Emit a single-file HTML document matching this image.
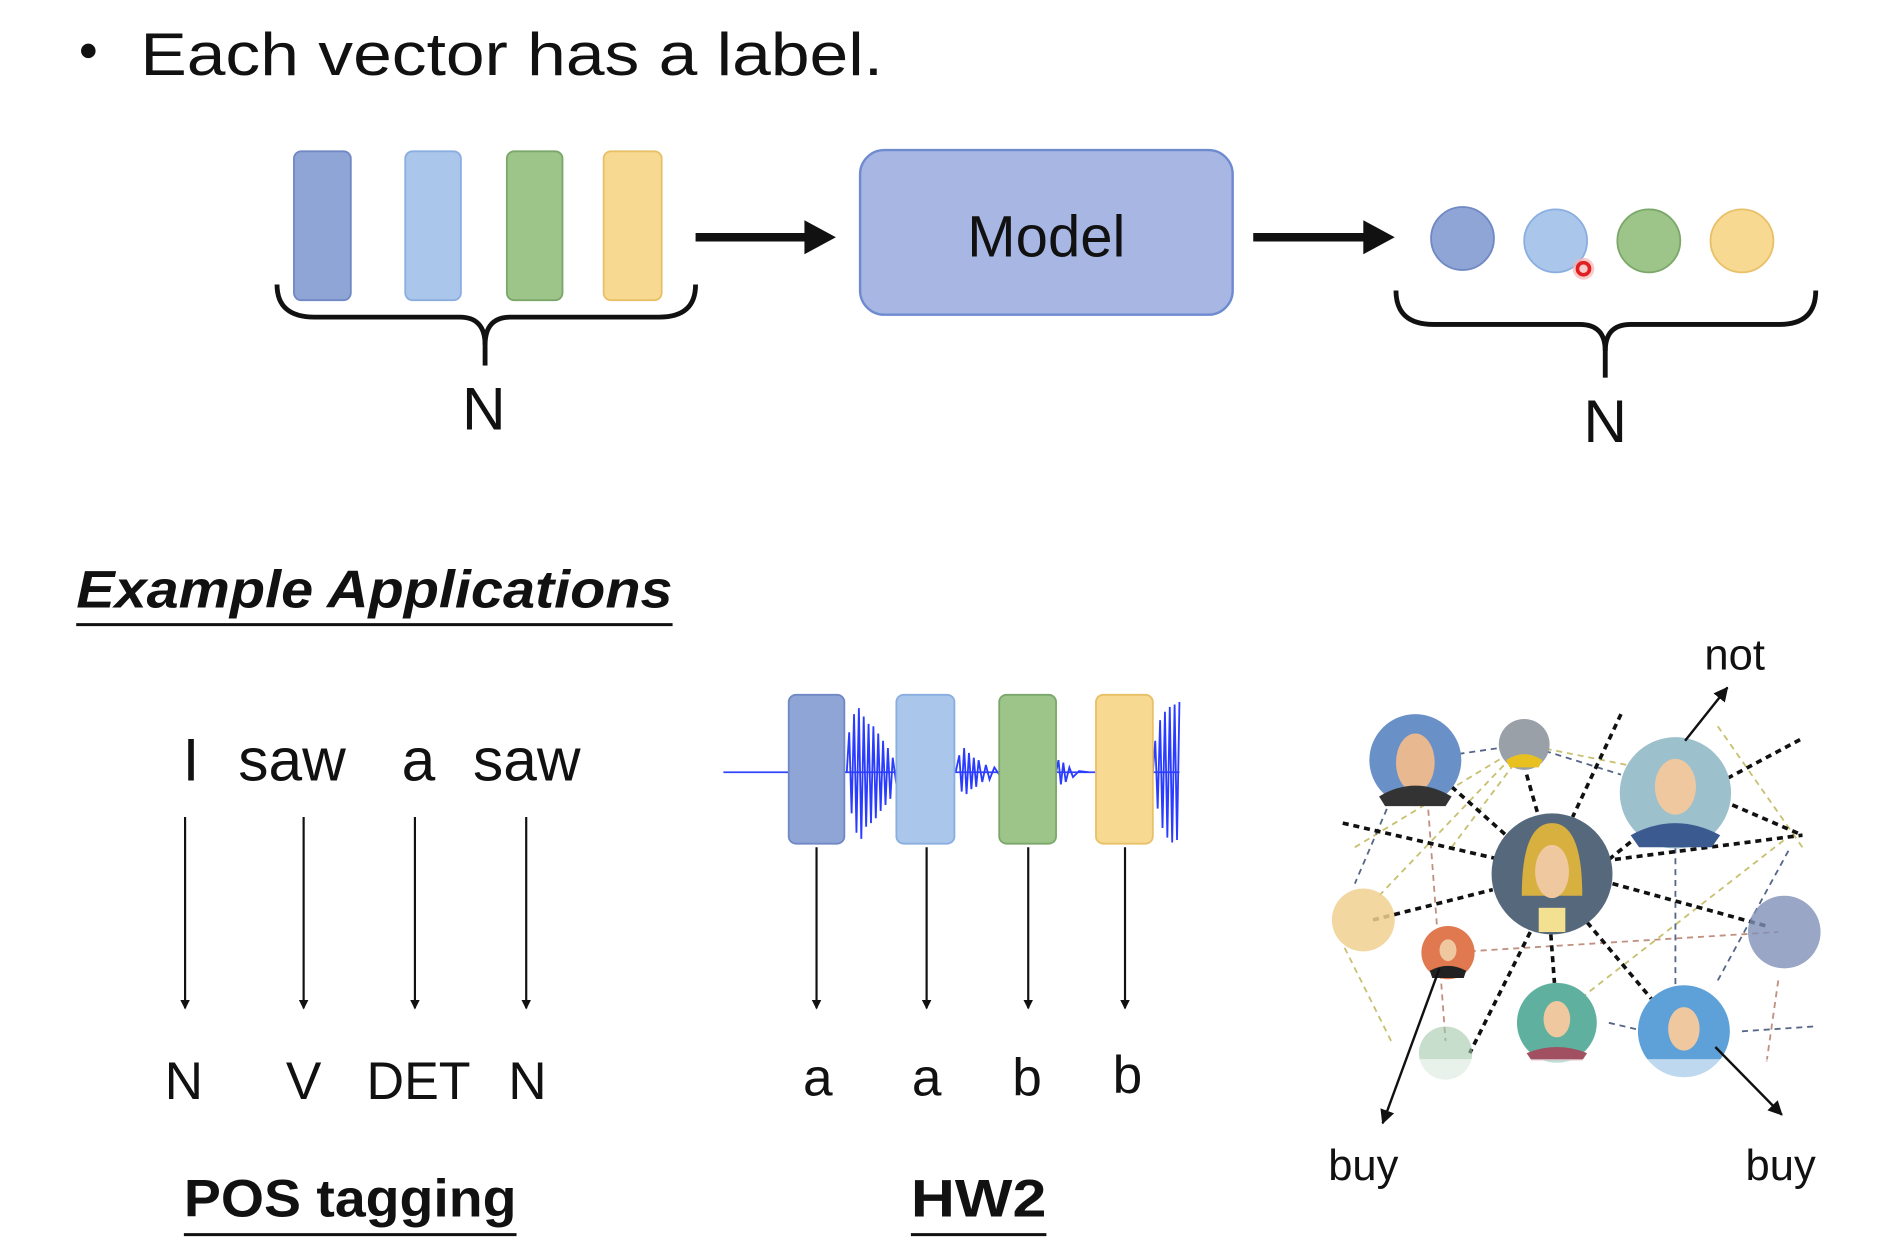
<!DOCTYPE html>
<html><head><meta charset="utf-8"><style>
html,body{margin:0;padding:0;background:#fff;}
svg{display:block;}
text{font-family:"Liberation Sans",sans-serif;fill:#111;}
</style></head><body>
<svg width="1898" height="1254" viewBox="0 0 1569 1036" preserveAspectRatio="none" xmlns="http://www.w3.org/2000/svg">
<defs>
<marker id="ah" markerWidth="8" markerHeight="8" refX="7" refY="4" orient="auto" markerUnits="userSpaceOnUse"><path d="M0,0 L8,4 L0,8 Z" fill="#111"/></marker>
<marker id="ah2" markerWidth="12" markerHeight="12" refX="11" refY="6" orient="auto" markerUnits="userSpaceOnUse"><path d="M0,0 L12,6 L0,12 Z" fill="#111"/></marker>
</defs>
<circle cx="73" cy="42" r="6" fill="#111"/>
<text x="116" y="62" font-size="50" textLength="614" lengthAdjust="spacingAndGlyphs">Each vector has a label.</text>

<rect x="243" y="125" width="47" height="123" rx="6" fill="#8fa5d6" stroke="#7088c4" stroke-width="1.5"/>
<rect x="335" y="125" width="46" height="123" rx="6" fill="#aac6ea" stroke="#8aaee0" stroke-width="1.5"/>
<rect x="419" y="125" width="46" height="123" rx="6" fill="#9dc489" stroke="#7ba86a" stroke-width="1.5"/>
<rect x="499" y="125" width="48" height="123" rx="6" fill="#f8d991" stroke="#e8c068" stroke-width="1.5"/>
<path d="M229,235 Q229,262 260,262 L380,262 Q401,262 401,285 Q401,262 422,262 L545,262 Q575,262 575,235" fill="none" stroke="#111" stroke-width="4"/>
<line x1="401" y1="280" x2="401" y2="302" stroke="#111" stroke-width="4"/>
<text x="400" y="355" font-size="50" text-anchor="middle">N</text>

<line x1="575" y1="196" x2="668" y2="196" stroke="#111" stroke-width="7"/>
<path d="M665,182 L691,196 L665,210 Z" fill="#111"/>
<rect x="711" y="124" width="308" height="136" rx="20" fill="#a7b6e3" stroke="#6f8bd0" stroke-width="2"/>
<text x="865" y="212" font-size="48" text-anchor="middle">Model</text>
<line x1="1036" y1="196" x2="1130" y2="196" stroke="#111" stroke-width="7"/>
<path d="M1127,182 L1153,196 L1127,210 Z" fill="#111"/>

<circle cx="1209" cy="197" r="26" fill="#8fa5d6" stroke="#7088c4" stroke-width="1.5"/>
<circle cx="1286" cy="199" r="26" fill="#aac6ea" stroke="#8aaee0" stroke-width="1.5"/>
<circle cx="1363" cy="199" r="26" fill="#9dc489" stroke="#7ba86a" stroke-width="1.5"/>
<circle cx="1440" cy="199" r="26" fill="#f8d991" stroke="#e8c068" stroke-width="1.5"/>
<circle cx="1309" cy="222" r="9" fill="#f7b3b3" opacity="0.7"/>
<circle cx="1309" cy="222" r="5" fill="none" stroke="#e02020" stroke-width="3"/>
<path d="M1154,240 Q1154,268 1185,268 L1306,268 Q1327,268 1327,290 Q1327,268 1348,268 L1471,268 Q1501,268 1501,240" fill="none" stroke="#111" stroke-width="4"/>
<line x1="1327" y1="285" x2="1327" y2="312" stroke="#111" stroke-width="4"/>
<text x="1327" y="365" font-size="50" text-anchor="middle">N</text>

<text x="63" y="502" font-size="44" font-weight="bold" font-style="italic" textLength="493" lengthAdjust="spacingAndGlyphs">Example Applications</text>
<line x1="63" y1="516" x2="556" y2="516" stroke="#111" stroke-width="2.5"/>

<text font-size="50" y="645"><tspan x="151">I</tspan><tspan x="197">saw</tspan><tspan x="332">a</tspan><tspan x="391">saw</tspan></text>
<g stroke="#111" stroke-width="1.8" marker-end="url(#ah)">
<line x1="153" y1="675" x2="153" y2="833"/><line x1="251" y1="675" x2="251" y2="833"/>
<line x1="343" y1="675" x2="343" y2="833"/><line x1="435" y1="675" x2="435" y2="833"/>
<line x1="675" y1="700" x2="675" y2="833"/><line x1="766" y1="700" x2="766" y2="833"/>
<line x1="850" y1="700" x2="850" y2="833"/><line x1="930" y1="700" x2="930" y2="833"/>
</g>
<g font-size="44" text-anchor="middle">
<text x="152" y="908">N</text><text x="251" y="908">V</text><text x="346" y="908" textLength="86" lengthAdjust="spacingAndGlyphs">DET</text><text x="436" y="908">N</text>
<text x="676" y="905">a</text><text x="766" y="905">a</text><text x="849" y="905">b</text><text x="932" y="903">b</text>
</g>
<text x="152" y="1005" font-size="44" font-weight="bold" textLength="275" lengthAdjust="spacingAndGlyphs">POS tagging</text>
<line x1="152" y1="1020" x2="427" y2="1020" stroke="#111" stroke-width="2.5"/>
<text x="753" y="1005" font-size="44" font-weight="bold" textLength="112" lengthAdjust="spacingAndGlyphs">HW2</text>
<line x1="753" y1="1020" x2="865" y2="1020" stroke="#111" stroke-width="2.5"/>

<line x1="598" y1="638" x2="975" y2="638" stroke="#3344ff" stroke-width="1.5"/>
<g stroke="#2a3cff" stroke-width="1.5" fill="none">
<path d="M700,638 L702,605 704,672 706,590 708,688 710,585 712,693 714,592 716,683 718,598 720,680 722,600 724,676 726,606 728,670 730,612 732,665 734,618 736,660 738,626 741,648"/>
<path d="M790,638 L793,624 795,654 797,618 799,656 801,622 803,652 805,626 807,650 809,628 812,646 815,632 818,644 822,634 826,640"/>
<path d="M873,638 L875,628 877,648 879,630 881,646 884,634 887,642 892,637 900,638"/>
<path d="M953,638 L955,612 957,668 959,595 961,684 963,588 965,692 967,584 969,696 971,582 973,694 975,580"/>
</g>
<rect x="652" y="574" width="46" height="123" rx="6" fill="#8fa5d6" stroke="#7088c4" stroke-width="1.5"/>
<rect x="741" y="574" width="48" height="123" rx="6" fill="#aac6ea" stroke="#8aaee0" stroke-width="1.5"/>
<rect x="826" y="574" width="47" height="123" rx="6" fill="#9dc489" stroke="#7ba86a" stroke-width="1.5"/>
<rect x="906" y="574" width="47" height="123" rx="6" fill="#f8d991" stroke="#e8c068" stroke-width="1.5"/>

<g stroke-dasharray="5,4" fill="none">
<g stroke="#c8c070" stroke-width="1.5">
<line x1="1120" y1="700" x2="1260" y2="615"/><line x1="1260" y1="615" x2="1385" y2="640"/>
<line x1="1150" y1="860" x2="1110" y2="780"/><line x1="1300" y1="830" x2="1480" y2="690"/>
<line x1="1420" y1="600" x2="1490" y2="700"/><line x1="1200" y1="700" x2="1260" y2="620"/>
<line x1="1140" y1="740" x2="1250" y2="625"/>
</g>
<g stroke="#c09080" stroke-width="1.5">
<line x1="1197" y1="787" x2="1470" y2="770"/><line x1="1180" y1="660" x2="1195" y2="860"/>
<line x1="1470" y1="810" x2="1460" y2="880"/>
</g>
<g stroke="#556688" stroke-width="1.5">
<line x1="1170" y1="628" x2="1260" y2="615"/><line x1="1260" y1="615" x2="1340" y2="640"/>
<line x1="1150" y1="660" x2="1120" y2="730"/><line x1="1385" y1="700" x2="1385" y2="820"/>
<line x1="1440" y1="852" x2="1500" y2="848"/><line x1="1330" y1="845" x2="1360" y2="852"/>
<line x1="1420" y1="810" x2="1480" y2="700"/>
</g>
<g stroke="#111" stroke-width="3">
<line x1="1110" y1="680" x2="1240" y2="710"/><line x1="1200" y1="650" x2="1245" y2="690"/>
<line x1="1262" y1="640" x2="1272" y2="675"/><line x1="1340" y1="590" x2="1300" y2="675"/>
<line x1="1330" y1="710" x2="1355" y2="690"/><line x1="1428" y1="643" x2="1490" y2="610"/>
<line x1="1432" y1="665" x2="1490" y2="690"/><line x1="1335" y1="710" x2="1490" y2="690"/>
<line x1="1333" y1="730" x2="1460" y2="765"/><line x1="1135" y1="760" x2="1234" y2="735"/>
<line x1="1265" y1="770" x2="1215" y2="870"/><line x1="1282" y1="772" x2="1285" y2="812"/>
<line x1="1312" y1="762" x2="1365" y2="825"/>
</g>
</g>
<g>
<circle cx="1170" cy="628" r="38" fill="#6a90c8"/><ellipse cx="1170" cy="630" rx="16" ry="24" fill="#e8b890"/><path d="M1140,658 Q1170,640 1200,658 L1195,666 L1145,666Z" fill="#333"/>
<circle cx="1260" cy="615" r="21" fill="#9aa0a8"/><path d="M1245,628 Q1260,618 1275,628 L1272,634 L1248,634Z" fill="#e8c020"/>
<circle cx="1385" cy="655" r="46" fill="#9cc0cc"/><ellipse cx="1385" cy="650" rx="17" ry="23" fill="#f0c8a0"/><path d="M1348,690 Q1385,670 1422,690 L1415,700 L1355,700Z" fill="#3a5a90"/>
<circle cx="1283" cy="722" r="50" fill="#56697c"/><path d="M1258,740 Q1258,680 1283,680 Q1308,680 1308,740Z" fill="#d8b040"/><ellipse cx="1283" cy="720" rx="14" ry="22" fill="#f0c8a0"/><rect x="1272" y="750" width="22" height="20" fill="#f3e090"/>
<circle cx="1127" cy="760" r="26" fill="#f0d090" opacity="0.85"/>
<circle cx="1475" cy="770" r="30" fill="#8090b8" opacity="0.8"/>
<circle cx="1197" cy="787" r="22" fill="#e07850"/><ellipse cx="1197" cy="785" rx="7" ry="9" fill="#f0c8a0"/><path d="M1182,802 Q1197,794 1212,802 L1210,808 L1184,808Z" fill="#222"/>
<circle cx="1287" cy="845" r="33" fill="#60b0a0"/><ellipse cx="1287" cy="842" rx="11" ry="15" fill="#f0c8a0"/><path d="M1262,870 Q1287,860 1312,870 L1308,876 L1266,876Z" fill="#a05060"/>
<circle cx="1392" cy="852" r="38" fill="#5ea0d8"/><ellipse cx="1392" cy="850" rx="13" ry="18" fill="#f0c8a0"/>
<circle cx="1195" cy="870" r="22" fill="#a0c8a8" opacity="0.6"/>
<rect x="1100" y="875" width="410" height="25" fill="#fff" opacity="0.6"/>
</g>
<g stroke="#111" stroke-width="2" marker-end="url(#ah2)">
<line x1="1393" y1="612" x2="1428" y2="568"/>
<line x1="1190" y1="800" x2="1143" y2="928"/>
<line x1="1418" y1="865" x2="1473" y2="921"/>
</g>
<g font-size="36" text-anchor="middle">
<text x="1434" y="553">not</text><text x="1127" y="975">buy</text><text x="1472" y="975">buy</text>
</g>
</svg>
</body></html>
